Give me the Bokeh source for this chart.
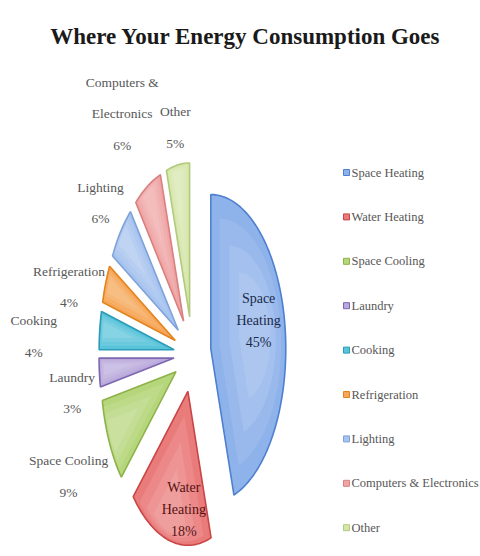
import math
from bokeh.plotting import figure
from bokeh.models import Range1d
from bokeh.core.properties import value
from bokeh.embed import file_html
from bokeh.resources import INLINE

# ---- data ----
chart_title = "Where Your Energy Consumption Goes"
categories = ["Space Heating", "Water Heating", "Space Cooling", "Laundry", "Cooking",
              "Refrigeration", "Lighting", "Computers & Electronics", "Other"]
shares = [45, 18, 9, 3, 4, 4, 6, 6, 5]
label_names = ["Space\nHeating", "Water\nHeating", "Space Cooling", "Laundry", "Cooking",
               "Refrigeration", "Lighting", "Computers &\nElectronics", "Other"]

# ---- style / layout ----
fill_colors = ["#8eb2ea", "#ea7b7b", "#b6d67c", "#b9a9dc", "#58c3da", "#f7a657",
               "#a7c3ef", "#f0a5a5", "#d6e6ab"]
edge_colors = ["#4f7fd0", "#c84646", "#8db24a", "#7e67ae", "#2b9cb8", "#e2841e",
               "#7ea2da", "#d98080", "#b2ca7e"]
inside_text_colors = {0: "#1a2a4a", 1: "#561212"}
FONT = "Liberation Serif"
TEXT_GRAY = "#575757"

W, H = 480, 556
CX, CY = 192, 354       # pie centre (px)
RY, RX = 154, 75        # vertical / horizontal radius (perspective squeeze)
K = RX / RY
EXPLODE = 38
LABEL_RY, LABEL_RX = 238, 148
INNER_F = 0.7
# manual label nudges (px), like hand-moved data labels
NUDGE = {"Space Heating": (-4, -11), "Water Heating": (9, 14), "Space Cooling": (8, 14),
         "Laundry": (27, 16), "Cooking": (-12, 12), "Refrigeration": (14, 20),
         "Lighting": (22, 0), "Computers & Electronics": (1, -32), "Other": (6, 8)}

p = figure(width=W, height=H, output_backend="svg", toolbar_location=None,
           x_range=Range1d(0, W), y_range=Range1d(H, 0), min_border=0)
p.axis.visible = False
p.grid.visible = False
p.outline_line_color = None
p.background_fill_color = "white"

total = float(sum(shares))
cum = 0.0
outer_xs, outer_ys = [], []
hl_layers = {0.82: ([], []), 0.62: ([], []), 0.42: ([], [])}
label_renderers = []
for i, s in enumerate(shares):
    t0 = cum / total * 2 * math.pi
    cum += s
    t1 = cum / total * 2 * math.pi
    mid = (t0 + t1) / 2
    ox = math.sin(mid) * EXPLODE * K
    oy = -math.cos(mid) * EXPLODE
    ax, ay = CX + ox, CY + oy
    n = max(4, int(s * 2))
    xs = [ax]
    ys = [ay]
    for j in range(n + 1):
        t = t0 + (t1 - t0) * j / n
        xs.append(ax + RX * math.sin(t))
        ys.append(ay - RY * math.cos(t))
    outer_xs.append(xs)
    outer_ys.append(ys)
    gx = sum(xs) / len(xs) - 2
    gy = sum(ys) / len(ys) - 3
    for f, (hx, hy) in hl_layers.items():
        hx.append([gx + (x - gx) * f for x in xs])
        hy.append([gy + (y - gy) * f for y in ys])

    label = f"{label_names[i]}\n{s}%"
    nx, ny = NUDGE[categories[i]]
    if s >= 15:
        lx = ax + math.sin(mid) * RX * INNER_F + nx
        ly = ay - math.cos(mid) * RY * INNER_F + ny
        r = p.text(x=[lx], y=[ly], text=[label], text_align="center", text_baseline="middle",
                   text_font=value(FONT), text_font_size="14px", text_color=inside_text_colors[i],
                   text_line_height=1.45)
    else:
        lx = CX + math.sin(mid) * LABEL_RX + nx
        ly = CY - math.cos(mid) * LABEL_RY + ny
        r = p.text(x=[lx], y=[ly], text=[label], text_align="center", text_baseline="middle",
                   text_font=value(FONT), text_font_size="13.5px", text_color=TEXT_GRAY,
                   text_line_height=2.1)
    label_renderers.append(r)

# soft white halo, body with darker rim, then soft highlights toward the centre
slices_halo = p.patches(outer_xs, outer_ys, fill_color=None, line_color="#ffffff",
                        line_width=4, line_alpha=0.9)
slices_body = p.patches(outer_xs, outer_ys, fill_color=fill_colors, line_color=edge_colors,
                        line_width=1.6)
hl_renderers = []
for f, (hx, hy) in hl_layers.items():
    hl_renderers.append(p.patches(hx, hy, fill_color="#ffffff", fill_alpha=0.1, line_color=None))

# title
title_r = p.text(x=[W / 2 + 5], y=[36], text=[chart_title], text_align="center",
                 text_baseline="alphabetic", text_font=value(FONT), text_font_size="23px",
                 text_font_style="bold", text_color="#1a1a1a")

# legend
LEG_X, LEG_TOP, LEG_STEP = 346, 172, 44.4
leg_y = [LEG_TOP + i * LEG_STEP for i in range(len(categories))]
leg_m = p.scatter(x=[LEG_X] * len(categories), y=leg_y, marker="square", size=6,
                  fill_color=fill_colors, line_color=edge_colors, line_width=1)
leg_t = p.text(x=[LEG_X + 5] * len(categories), y=leg_y, text=categories, text_align="left",
               text_baseline="middle", text_font=value(FONT), text_font_size="12.5px",
               text_color=TEXT_GRAY)

p.renderers = [slices_halo, slices_body] + hl_renderers + [leg_m, leg_t, title_r] + label_renderers

open("out.html", "w").write(file_html(p, INLINE))
